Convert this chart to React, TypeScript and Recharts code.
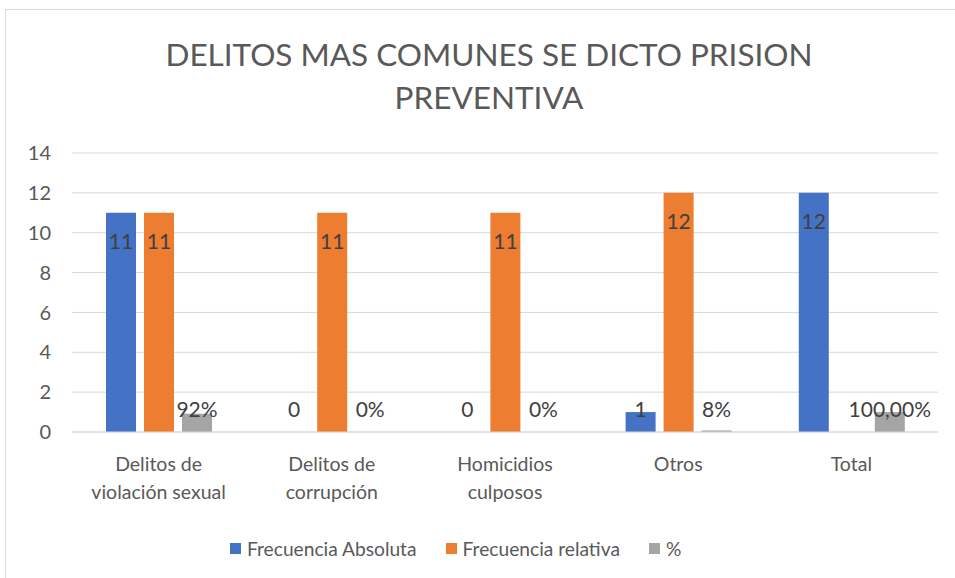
import { BarChart, Bar, XAxis, YAxis, CartesianGrid, Legend, LabelList } from 'recharts'

const categories = ['Delitos de\nviolación sexual', 'Delitos de\ncorrupción', 'Homicidios\nculposos', 'Otros', 'Total']
const absoluta = [11, 0, 0, 1, 12]
const relativa = [11, 11, 11, 12, null]
const porcentaje = [0.92, 0, 0, 0.08, 1]
const porcentajeLabels = ['92%', '0%', '0%', '8%', '100,00%']
const yTicks = [0, 2, 4, 6, 8, 10, 12, 14]

const seriesNames = ['Frecuencia Absoluta', 'Frecuencia relativa', '%']
const colors = ['#4472C4', '#ED7D31', '#A5A5A5']

const data = categories.map((name, i) => ({
  name,
  abs: absoluta[i],
  rel: relativa[i],
  pct: porcentaje[i],
  pctLabel: porcentajeLabels[i],
}))

const FONT = 'Lato, "Noto Sans", sans-serif'
const TEXT = '#595959'

function BarLabel(props: any) {
  const { x, y, width, height, value } = props
  if (value === null || value === undefined) return null
  // inside end for tall bars, pushed up above the axis for short ones
  const cy = Math.min(y + 28, y + height - 24)
  return (
    <text x={x + width / 2} y={cy} textAnchor="middle" dominantBaseline="central"
      fontFamily={FONT} fontSize={21} fill="#404040">
      {value}
    </text>
  )
}

function CategoryTick(props: any) {
  const { x, y, payload } = props
  const lines = String(payload.value).split('\n')
  return (
    <text x={x} y={y} textAnchor="middle" fontFamily={FONT} fontSize={19.5} fill={TEXT}>
      {lines.map((l, i) => (
        <tspan key={i} x={x} dy={i === 0 ? 31 : 28}>{l}</tspan>
      ))}
    </text>
  )
}

function ChartLegend() {
  return (
    <div style={{ display: 'flex', paddingLeft: 230, height: 24, alignItems: 'center', fontFamily: FONT, fontSize: 19.2, color: TEXT }}>
      {seriesNames.map((n, i) => (
        <div key={n} style={{ display: 'flex', alignItems: 'center', marginRight: 29 }}>
          <span style={{ width: 11, height: 11, background: colors[i], display: 'inline-block', marginRight: 6 }} />
          <span>{n}</span>
        </div>
      ))}
    </div>
  )
}

// zero values still get a (practically invisible) bar so their labels show
const zeroSize = (v: any) => (v === 0 ? 0.01 : 0)

document.body.style.margin = '0'

export default function App() {
  return (
    <div style={{ position: 'relative', width: 955, height: 578, background: '#fff', overflow: 'hidden' }}>
      <div style={{ position: 'absolute', left: 5, top: 9, width: 1000, height: 1000, borderLeft: '1px solid #D9D9D9', borderTop: '1px solid #D9D9D9' }} />
      <div style={{ position: 'absolute', left: 0, width: 978, top: 33, textAlign: 'center', fontFamily: FONT, fontSize: 31.5, color: TEXT, lineHeight: '43px' }}>
        DELITOS MAS COMUNES SE DICTO PRISION<br />PREVENTIVA
      </div>
      <div style={{ position: 'absolute', left: 0, top: 0 }}>
        <BarChart width={955} height={578} data={data} barSize={30} barGap={8}
          margin={{ top: 153, right: 17, left: 0, bottom: 18 }}>
          <CartesianGrid vertical={false} stroke="#D9D9D9" />
          <XAxis dataKey="name" tick={<CategoryTick />} tickLine={false} axisLine={{ stroke: '#D9D9D9' }} height={104} interval={0} />
          <YAxis domain={[0, 14]} ticks={yTicks} width={72} tickLine={false} axisLine={false}
            tick={{ fill: TEXT, fontSize: 20, fontFamily: FONT }} tickMargin={15} />
          <Legend verticalAlign="bottom" content={<ChartLegend />} wrapperStyle={{ left: 0, width: 955, height: 24 }} />
          <Bar dataKey="abs" name={seriesNames[0]} fill={colors[0]} minPointSize={zeroSize} isAnimationActive={false}>
            <LabelList dataKey="abs" content={<BarLabel />} />
          </Bar>
          <Bar dataKey="rel" name={seriesNames[1]} fill={colors[1]} minPointSize={zeroSize} isAnimationActive={false}>
            <LabelList dataKey="rel" content={<BarLabel />} />
          </Bar>
          <Bar dataKey="pct" name={seriesNames[2]} fill={colors[2]} minPointSize={zeroSize} isAnimationActive={false}>
            <LabelList dataKey="pctLabel" content={<BarLabel />} />
          </Bar>
        </BarChart>
      </div>
    </div>
  )
}
